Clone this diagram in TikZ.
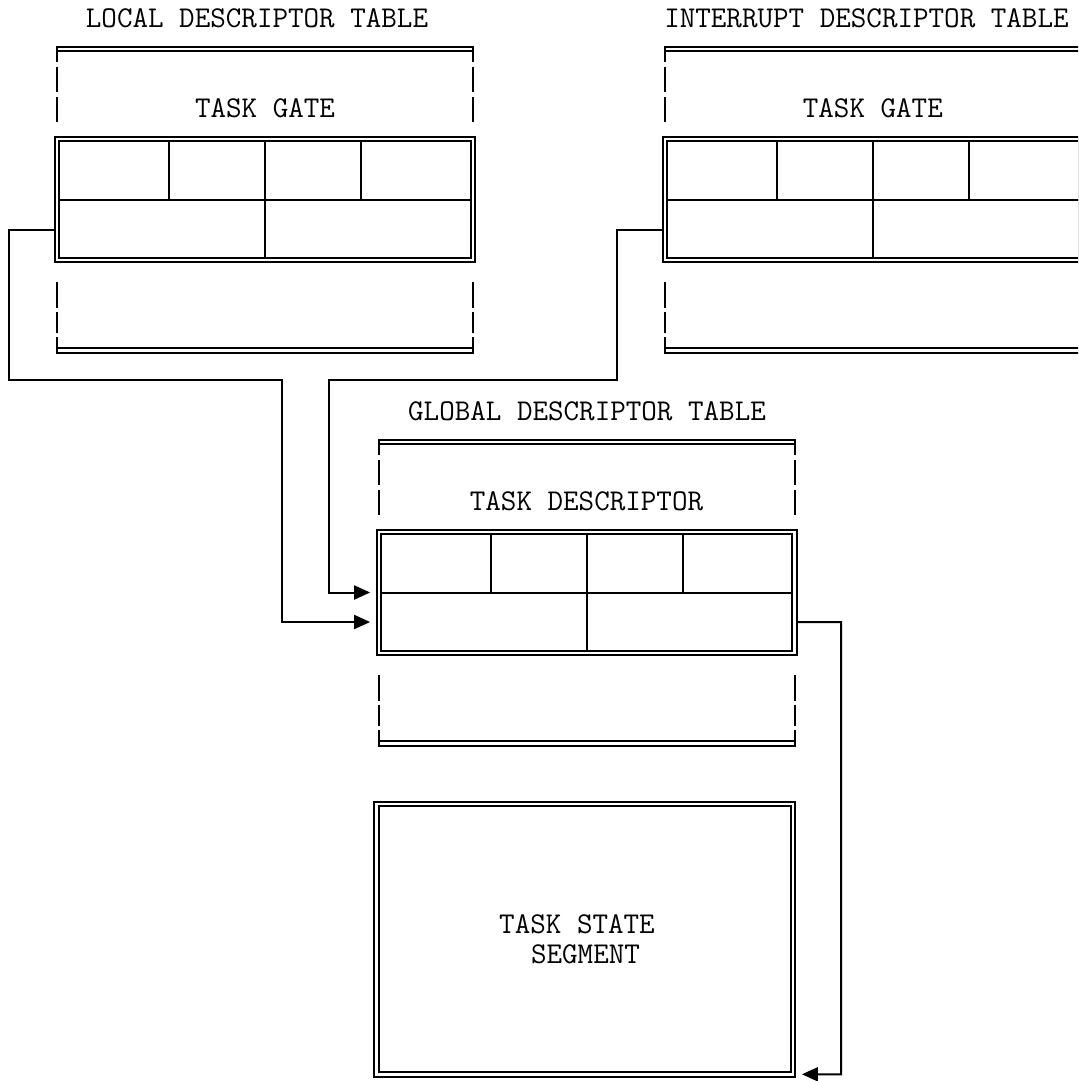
\documentclass[tikz,border=0pt]{standalone}
\usepackage{fontspec}
\usetikzlibrary{arrows.meta}
\tikzset{
  ln/.style={line width=1pt},
  dbox/.style={draw, rectangle, double, line width=1pt, double distance=1.15pt, inner sep=0pt, outer sep=1.575pt},
  lbl/.style={font=\ttfamily\fontsize{15.1pt}{18pt}\selectfont, inner sep=0pt, outer sep=0pt},
  conn/.style={line width=1pt},
  arr/.style={conn, -{Triangle[length=8pt,width=7pt]}},
}
% name, cx, cy, title, title x offset, subtitle
\newcommand{\desctable}[6]{%
  \begin{scope}[shift={(#2,#3)}]
    \node[lbl] (#1title) at (#5,-181.5) {#4};
    \node[lbl] (#1sub) at (0,-91) {#6};
    \draw[ln] (-208,-137.5) -- (-208,-152.5) -- (208,-152.5) -- (208,-137.5);
    \draw[ln] (-208,-148.5) -- (208,-148.5);
    \draw[ln] (-208,137.5) -- (-208,153.2) -- (208,153.2) -- (208,137.5);
    \draw[ln] (-208,148.8) -- (208,148.8);
    \foreach \s in {-208,208}{
      \draw[ln] (\s,-132.5) -- (\s,-107.5) (\s,-102.5) -- (\s,-77.5)
                (\s,82.5) -- (\s,108.5) (\s,112.5) -- (\s,133.5);
    }
    \node[dbox, minimum width=207.85pt, minimum height=60.5pt] (#1) at (0,0) {};
    \draw[ln] (-205.7,0) -- (205.7,0)
              (-96,-58.5) -- (-96,0) (0,-58.5) -- (0,58.5) (96,-58.5) -- (96,0);
  \end{scope}}
\begin{document}
\begin{tikzpicture}[x=0.5pt, y=-0.5pt]
  \useasboundingbox (0,0) rectangle (1078,1081);
  \fill[white] (0,0) rectangle (1078,1081);
  \clip (0,0) rectangle (1078,1081);

  \desctable{ldt}{265}{199.5}{LOCAL DESCRIPTOR TABLE}{-8}{TASK GATE}
  \desctable{idt}{872.85}{199.5}{INTERRUPT DESCRIPTOR TABLE}{-6.4}{TASK GATE}
  \desctable{gdt}{586.5}{592.5}{GLOBAL DESCRIPTOR TABLE}{0.5}{TASK DESCRIPTOR}

  \node[dbox, minimum width=208.2pt, minimum height=135.15pt] (tss) at (584.8,939.35) {};
  \node[lbl] (tssa) at (577,924) {TASK STATE};
  \node[lbl] (tssb) at (585.5,954) {SEGMENT};

  \draw[arr, shorten >=2.7pt] ([yshift=-15.25pt]ldt.west) -| (9,380) -| (282,622) -- ([yshift=-14.75pt]gdt.west);
  \draw[arr, shorten >=2.7pt] ([yshift=-15.25pt]idt.west) -| (617,380) -| (329,592.5) -- (gdt.west);
  \draw[arr, shorten >=2.9pt] ([yshift=-14.75pt]gdt.east) -| (841,1074.3) -- ([yshift=-67.475pt]tss.east);
\end{tikzpicture}
\end{document}
